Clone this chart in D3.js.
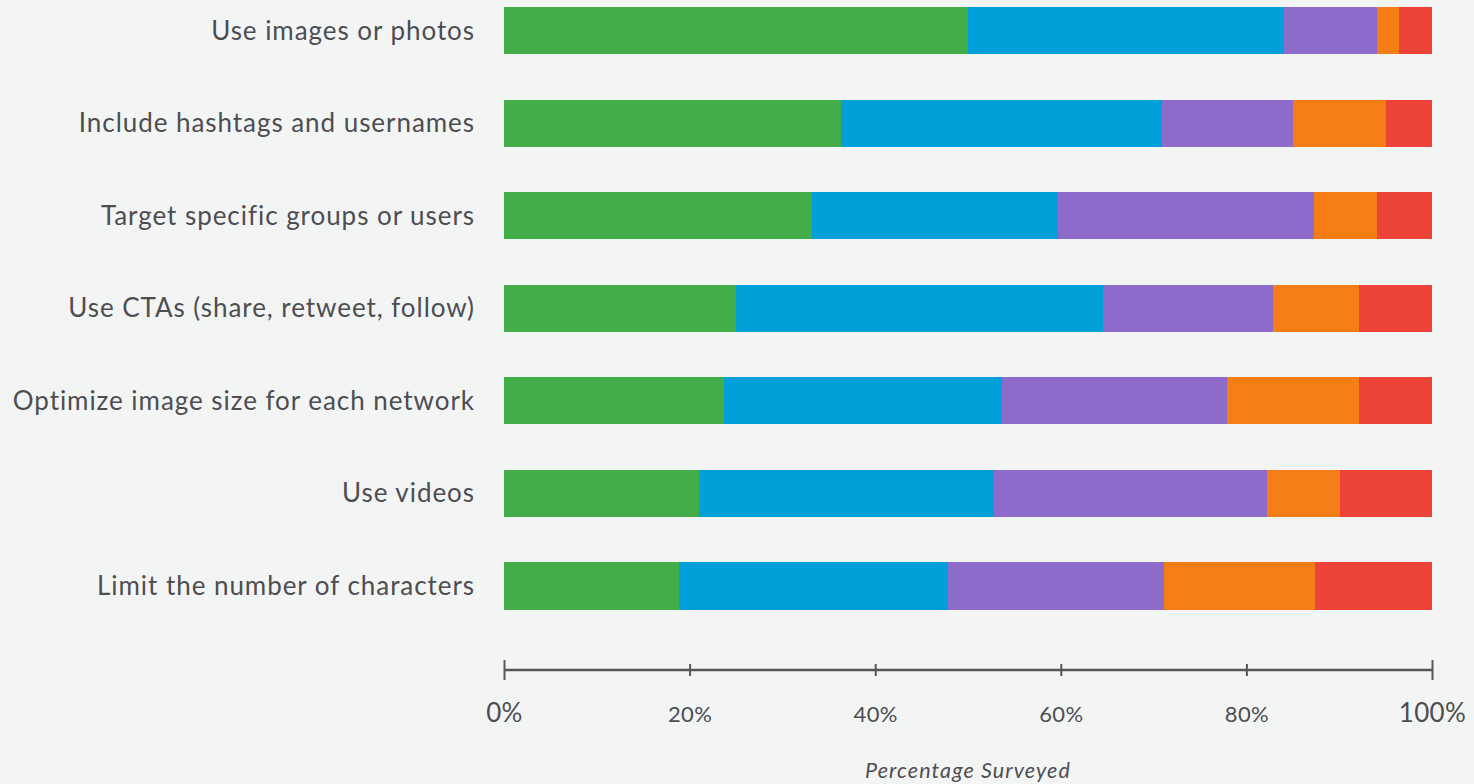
<!DOCTYPE html>
<html>
<head>
<meta charset="utf-8">
<script src="https://cdn.jsdelivr.net/npm/d3@7"></script>
<style>
  html, body { margin: 0; padding: 0; background: #f3f5f4; }
  svg { display: block; }
</style>
</head>
<body>
<svg id="chart" width="1474" height="784"></svg>
<script>
const categories = [
  "Use images or photos",
  "Include hashtags and usernames",
  "Target specific groups or users",
  "Use CTAs (share, retweet, follow)",
  "Optimize image size for each network",
  "Use videos",
  "Limit the number of characters"
];
const seriesNames = ["s1", "s2", "s3", "s4", "s5"];
const s1 = [50.0, 36.3, 33.2, 25.0, 23.7, 21.0, 18.9];
const s2 = [34.0, 34.6, 26.5, 39.6, 30.0, 31.8, 28.9];
const s3 = [10.1, 14.1, 27.6, 18.3, 24.2, 29.4, 23.3];
const s4 = [2.3, 10.0, 6.8, 9.2, 14.2, 7.9, 16.3];
const s5 = [3.6, 5.0, 5.9, 7.9, 7.9, 9.9, 12.6];
const colors = ["#43ad4a", "#00a1db", "#8c6bca", "#f57d16", "#ed4339"];
const tickValues = [0, 20, 40, 60, 80, 100];
const tickLabels = ["0%", "20%", "40%", "60%", "80%", "100%"];
const axisTitle = "Percentage Surveyed";

const rows = categories.map((c, i) => ({
  category: c, s1: s1[i], s2: s2[i], s3: s3[i], s4: s4[i], s5: s5[i]
}));

const svg = d3.select("#chart");
const font = "Lato, 'Open Sans', sans-serif";
const textColor = "#4d4d52";

const x = d3.scaleLinear().domain([0, 100]).range([504, 1432]);
const y = d3.scaleBand().domain(categories).range([7, 609.5]).paddingInner(0.4865).paddingOuter(0);

const stack = d3.stack().keys(seriesNames);
const stacked = stack(rows);

svg.append("g").selectAll("g")
  .data(stacked)
  .join("g")
  .attr("fill", (d, i) => colors[i])
  .selectAll("rect")
  .data(d => d)
  .join("rect")
  .attr("x", d => x(d[0]))
  .attr("width", d => x(d[1]) - x(d[0]))
  .attr("y", d => y(d.data.category))
  .attr("height", y.bandwidth())
  .attr("shape-rendering", "crispEdges");

// category labels
svg.append("g").selectAll("text")
  .data(categories)
  .join("text")
  .attr("x", 475)
  .attr("y", d => y(d) + y.bandwidth() / 2)
  .attr("dy", "0.35em")
  .attr("text-anchor", "end")
  .attr("font-family", font)
  .attr("font-size", 26)
  .attr("letter-spacing", 0.95)
  .attr("fill", textColor)
  .text(d => d);

// x axis
const axis = d3.axisBottom(x)
  .tickValues(tickValues)
  .tickFormat((d, i) => tickLabels[i])
  .tickSize(6)
  .tickSizeOuter(0)
  .tickPadding(0);

const gAxis = svg.append("g")
  .attr("transform", "translate(0,670)")
  .call(axis);

gAxis.select(".domain")
  .attr("stroke", "#55565a")
  .attr("stroke-width", 2.5)
  .attr("d", `M${x(0)},0H${x(100)}`);

gAxis.selectAll(".tick line")
  .attr("stroke", "#55565a")
  .attr("stroke-width", 2)
  .attr("y1", (d) => (d === 0 || d === 100) ? -10 : -6)
  .attr("y2", (d) => (d === 0 || d === 100) ? 10 : 6);

gAxis.selectAll(".tick text")
  .attr("font-family", font)
  .attr("font-size", d => (d === 0 || d === 100) ? 26 : 22)
  .attr("letter-spacing", 0.4)
  .attr("fill", textColor)
  .attr("y", 52)
  .attr("dy", 0);

svg.append("text")
  .attr("x", (x(0) + x(100)) / 2)
  .attr("y", 778)
  .attr("text-anchor", "middle")
  .attr("font-family", font)
  .attr("font-style", "italic")
  .attr("font-size", 21.5)
  .attr("letter-spacing", 1.1)
  .attr("fill", textColor)
  .text(axisTitle);
</script>
</body>
</html>
